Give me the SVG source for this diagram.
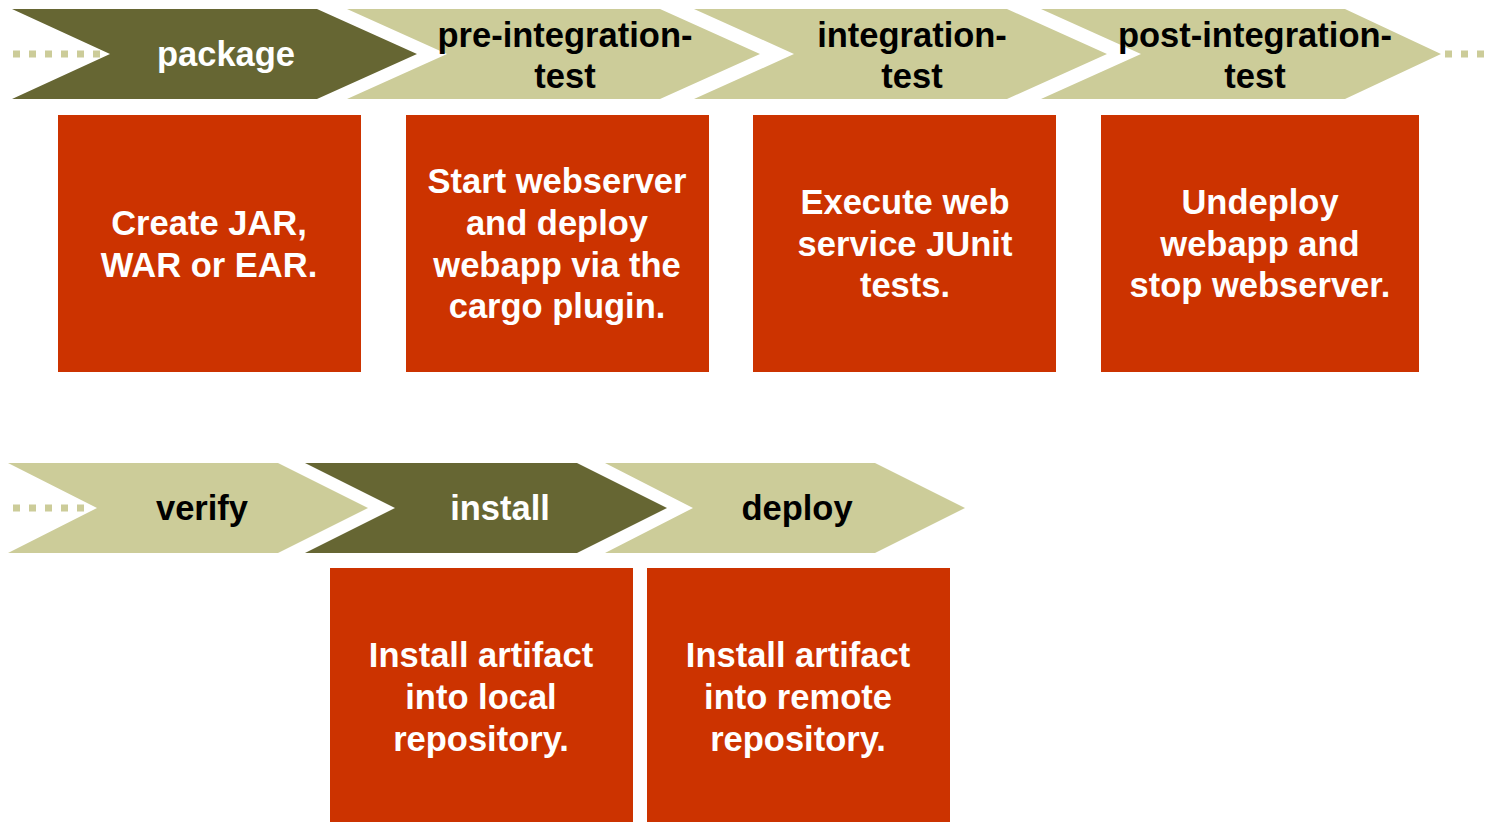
<svg xmlns="http://www.w3.org/2000/svg" width="1493" height="822" viewBox="0 0 1493 822">
<style>
.dark{fill:#666633}
.light{fill:#cccc99}
.box{fill:#cc3300}
.dots{stroke:#cccc99;stroke-width:7;stroke-dasharray:7 9;fill:none}
text{font-family:"Liberation Sans",Arial,sans-serif;font-weight:bold;font-size:34.5px;text-anchor:middle}
.w{fill:#ffffff}
.k{fill:#000000}
</style>
<rect width="1493" height="822" fill="#ffffff"/>
<g id="connectors">
<line class="dots" x1="13" y1="54" x2="106" y2="54"/>
<line class="dots" x1="1445" y1="54" x2="1493" y2="54"/>
<line class="dots" x1="13" y1="508" x2="92" y2="508"/>
</g>
<g id="package">
<polygon class="dark" points="12,9 317,9 417,54 317,99 12,99 110,54"/>
<text class="w" x="226" y="66">package</text>
</g>
<g id="pre-integration-test">
<polygon class="light" points="347,9 660,9 760,54 660,99 347,99 447,54"/>
<text class="k" x="565" y="47">pre-integration-</text>
<text class="k" x="565" y="88">test</text>
</g>
<g id="integration-test">
<polygon class="light" points="694,9 1007,9 1107,54 1007,99 694,99 794,54"/>
<text class="k" x="912" y="47">integration-</text>
<text class="k" x="912" y="88">test</text>
</g>
<g id="post-integration-test">
<polygon class="light" points="1041,9 1345,9 1441,54 1345,99 1041,99 1141,54"/>
<text class="k" x="1255" y="47">post-integration-</text>
<text class="k" x="1255" y="88">test</text>
</g>
<g id="box-package">
<rect class="box" x="58" y="115" width="303" height="257"/>
<text class="w" x="209" y="235">Create JAR,</text>
<text class="w" x="209" y="277">WAR or EAR.</text>
</g>
<g id="box-pre">
<rect class="box" x="406" y="115" width="303" height="257"/>
<text class="w" x="557" y="193">Start webserver</text>
<text class="w" x="557" y="235">and deploy</text>
<text class="w" x="557" y="277">webapp via the</text>
<text class="w" x="557" y="318">cargo plugin.</text>
</g>
<g id="box-integration">
<rect class="box" x="753" y="115" width="303" height="257"/>
<text class="w" x="905" y="214">Execute web</text>
<text class="w" x="905" y="256">service JUnit</text>
<text class="w" x="905" y="297">tests.</text>
</g>
<g id="box-post">
<rect class="box" x="1101" y="115" width="318" height="257"/>
<text class="w" x="1260" y="214">Undeploy</text>
<text class="w" x="1260" y="256">webapp and</text>
<text class="w" x="1260" y="297">stop webserver.</text>
</g>
<g id="verify">
<polygon class="light" points="8,463 278,463 368,508 278,553 8,553 97,508"/>
<text class="k" x="202" y="520">verify</text>
</g>
<g id="install">
<polygon class="dark" points="305,463 577,463 667,508 577,553 305,553 395,508"/>
<text class="w" x="500" y="520">install</text>
</g>
<g id="deploy">
<polygon class="light" points="605,463 875,463 965,508 875,553 605,553 693,508"/>
<text class="k" x="797" y="520">deploy</text>
</g>
<g id="box-install">
<rect class="box" x="330" y="568" width="303" height="254"/>
<text class="w" x="481" y="667">Install artifact</text>
<text class="w" x="481" y="709">into local</text>
<text class="w" x="481" y="751">repository.</text>
</g>
<g id="box-deploy">
<rect class="box" x="647" y="568" width="303" height="254"/>
<text class="w" x="798" y="667">Install artifact</text>
<text class="w" x="798" y="709">into remote</text>
<text class="w" x="798" y="751">repository.</text>
</g>
</svg>
